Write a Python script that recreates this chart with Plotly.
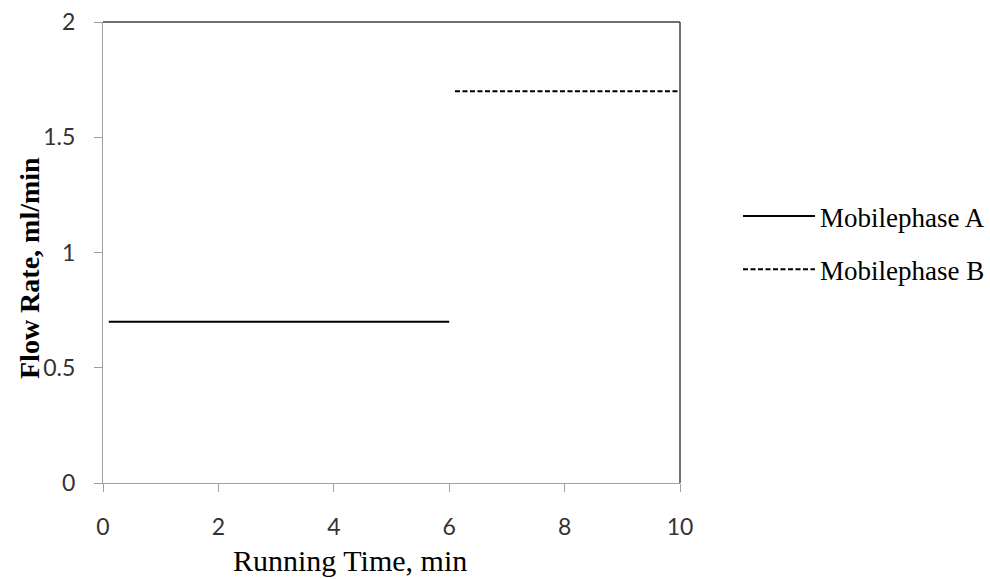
import plotly.graph_objects as go

time_a = [0.1, 6.0]
flow_a = [0.7, 0.7]
time_b = [6.1, 10.0]
flow_b = [1.7, 1.7]
x_ticks = [0, 2, 4, 6, 8, 10]
y_ticks = [0, 0.5, 1, 1.5, 2]
y_tick_labels = ["0", "0.5", "1", "1.5", "2"]
x_title = "Running Time, min"
y_title = "Flow Rate, ml/min"

fig = go.Figure()
fig.add_trace(go.Scatter(x=time_a, y=flow_a, mode="lines", name="Mobilephase A",
                         legendgroup="a", line=dict(color="black", width=2)))
fig.add_trace(go.Scatter(x=time_b, y=flow_b, mode="lines", name="Mobilephase B",
                         legendgroup="b",
                         line=dict(color="black", width=2, dash="5px,2.5px")))

tickfont = dict(family="Lato", size=23, color="#333")
fig.update_layout(
    width=990, height=579,
    margin=dict(l=103, r=310, t=22, b=96, autoexpand=False),
    plot_bgcolor="white", paper_bgcolor="white",
    showlegend=True,
    legend=dict(xref="container", yref="container", x=738 / 990, y=1 - 192 / 579,
                xanchor="left", yanchor="top",
                font=dict(family="Liberation Serif", size=27, color="black"),
                bgcolor="rgba(0,0,0,0)", tracegroupgap=15, itemwidth=72),
    xaxis=dict(range=[0, 10], tickvals=x_ticks, ticks="outside", ticklen=8,
               tickcolor="#a0a0a0", showline=True, linecolor="#a0a0a0", linewidth=1,
               showgrid=False, zeroline=False, tickfont=tickfont, ticklabelstandoff=15,
               automargin=False),
    yaxis=dict(range=[0, 2], tickvals=y_ticks, ticktext=y_tick_labels, ticks="outside",
               ticklen=8, tickcolor="#a0a0a0", showline=True, linecolor="#a0a0a0",
               linewidth=1, showgrid=False, zeroline=False, tickfont=tickfont,
               ticklabelstandoff=14, automargin=False),
)
# axis titles
fig.add_annotation(text=x_title, xref="paper", yref="paper", x=(350 - 103) / 577,
                   y=(483 - 579) / 461, xanchor="center", yanchor="bottom",
                   showarrow=False,
                   font=dict(family="Liberation Serif", size=30, color="black"))
fig.add_annotation(text="<b>" + y_title + "</b>", xref="paper", yref="paper",
                   x=(29 - 103) / 577, y=(483 - 268) / 461, xanchor="center",
                   yanchor="middle", textangle=-90, showarrow=False,
                   font=dict(family="Liberation Serif", size=28, color="black"))
# top and right border of plot area
fig.add_shape(type="line", xref="paper", yref="paper", x0=0, x1=1, y0=1, y1=1,
              line=dict(color="#404040", width=1.5))
fig.add_shape(type="line", xref="paper", yref="paper", x0=1, x1=1, y0=0, y1=1,
              line=dict(color="#404040", width=1.5))

fig.write_html("out.html", config={"displayModeBar": False},
               post_script="document.body.style.margin='0';")
